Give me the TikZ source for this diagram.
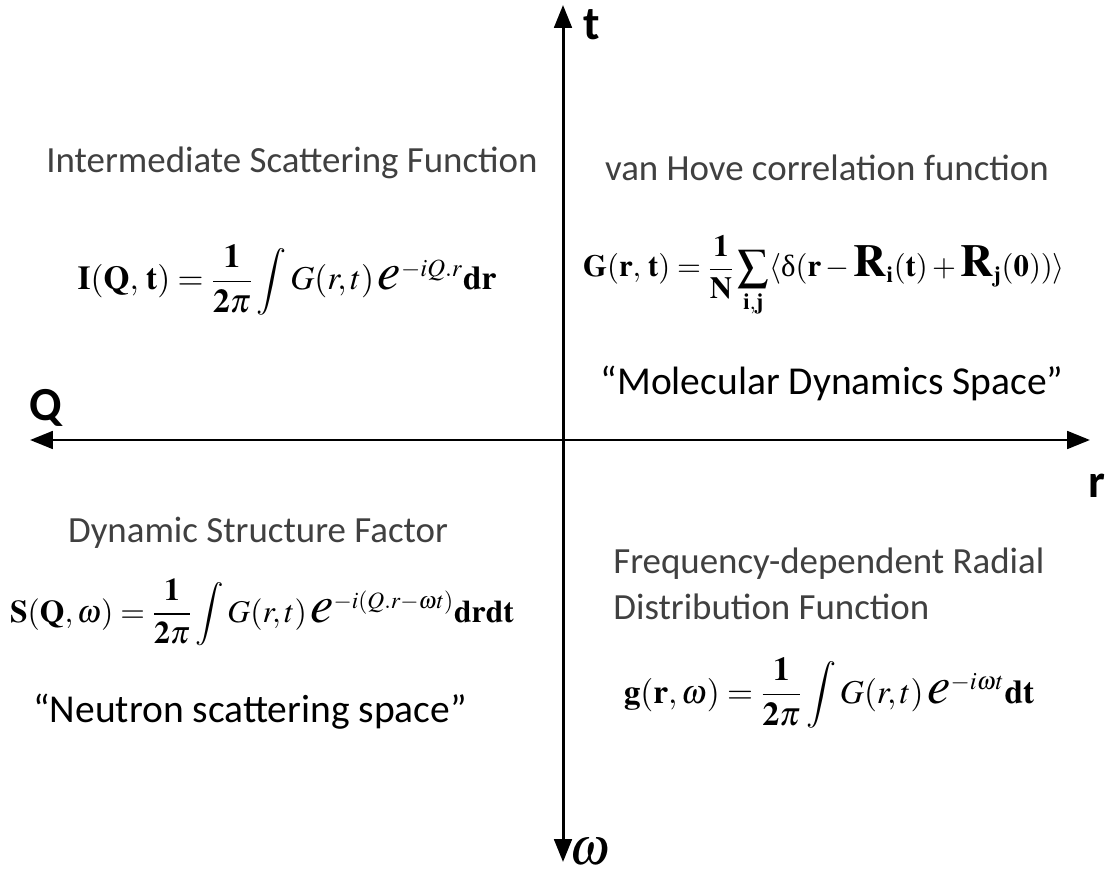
\documentclass[tikz,border=0pt]{standalone}
\usepackage{amsmath}
\usepackage{mathptmx}
\usepackage[no-math]{fontspec}
\setmainfont{Liberation Serif}
\newfontfamily\calib{Carlito}
\usetikzlibrary{arrows.meta,positioning}

\tikzset{
  axis/.style={line width=1.7pt, {Triangle[length=13pt,width=10pt]}-{Triangle[length=13pt,width=10pt]}},
  heading/.style={font=\calib\fontsize{21}{26}\selectfont, text=black!75, inner sep=0pt},
  quoted/.style={font=\calib\fontsize{22.5}{26}\selectfont, inner sep=0pt},
  formula/.style={font=\fontsize{19}{23}\selectfont, inner sep=0pt, anchor=base},
  axislabel/.style={font=\calib\bfseries\fontsize{27}{30}\selectfont, inner sep=0pt},
}
\newcommand{\bigE}{\mbox{\fontsize{30}{30}\selectfont$e$}}
\newcommand{\bigR}{\mbox{\fontsize{26}{26}\selectfont$\mathbf{R}$}}

\begin{document}
\begin{tikzpicture}[x=0.02cm, y=-0.02cm]
  \fill[white] (0,0) rectangle (1114,874);
  \useasboundingbox (0,0) rectangle (1114,874);

  % axes
  \coordinate (west) at (30,440);
  \coordinate (east) at (1090,440);
  \coordinate (north) at (563,5);
  \coordinate (south) at (563,862);
  \draw[axis] (west) -- (east);
  \draw[axis] (south) -- (north);

  \node[axislabel] (tlab) at (592,25) {t};
  \node[axislabel] (qlab) at (46,408) {Q};
  \node[axislabel] (rlab) at (1097,486) {r};
  \node[inner sep=0pt, font=\fontsize{30}{30}\selectfont] (wlab) at (590,852) {$\omega$};

  % upper left
  \node[heading] (isf) at (292,163) {Intermediate Scattering Function};
  \node[formula] (iform) at (287,290)
    {$\mathbf{I(Q,\,t)}=\dfrac{\mathbf{1}}{\mathbf{2}\pi}\displaystyle\int G(r,t)\,\bigE^{-iQ.r}\mathbf{dr}$};

  % upper right
  \node[heading] (vh) at (827,168) {van Hove correlation function};
  \node[formula, font=\fontsize{17.5}{21}\selectfont] (gform) at (824,277)
    {$\mathbf{G(r,\,t)}=\dfrac{\mathbf{1}}{\mathbf{N}}\displaystyle\sum_{\mathbf{i,j}}\langle\text{δ}(\mathbf{r}-\bigR_{\mathbf{i}}(\mathbf{t})+\bigR_{\mathbf{j}}(\mathbf{0}))\rangle$};
  \node[quoted] (mds) at (832,383) {“Molecular Dynamics Space”};

  % lower left
  \node[heading] (dsf) at (258,533) {Dynamic Structure Factor};
  \node[formula, font=\fontsize{18}{22}\selectfont] (sform) at (262,622)
    {$\mathbf{S(Q,}\,\omega\mathbf{)}=\dfrac{\mathbf{1}}{\mathbf{2}\pi}\displaystyle\int G(r,t)\,\bigE^{-i(Q.r-\omega t)}\mathbf{drdt}$};
  \node[quoted] (nss) at (250,712) {“Neutron scattering space”};

  % lower right
  \node[heading, anchor=west, align=left] (frdf) at (613,584) {Frequency-dependent Radial\\Distribution Function};
  \node[formula] (gwform) at (829,703)
    {$\mathbf{g(r,}\,\omega\mathbf{)}=\dfrac{\mathbf{1}}{\mathbf{2}\pi}\displaystyle\int G(r,t)\,\bigE^{-i\omega t}\mathbf{dt}$};
\end{tikzpicture}
\end{document}
